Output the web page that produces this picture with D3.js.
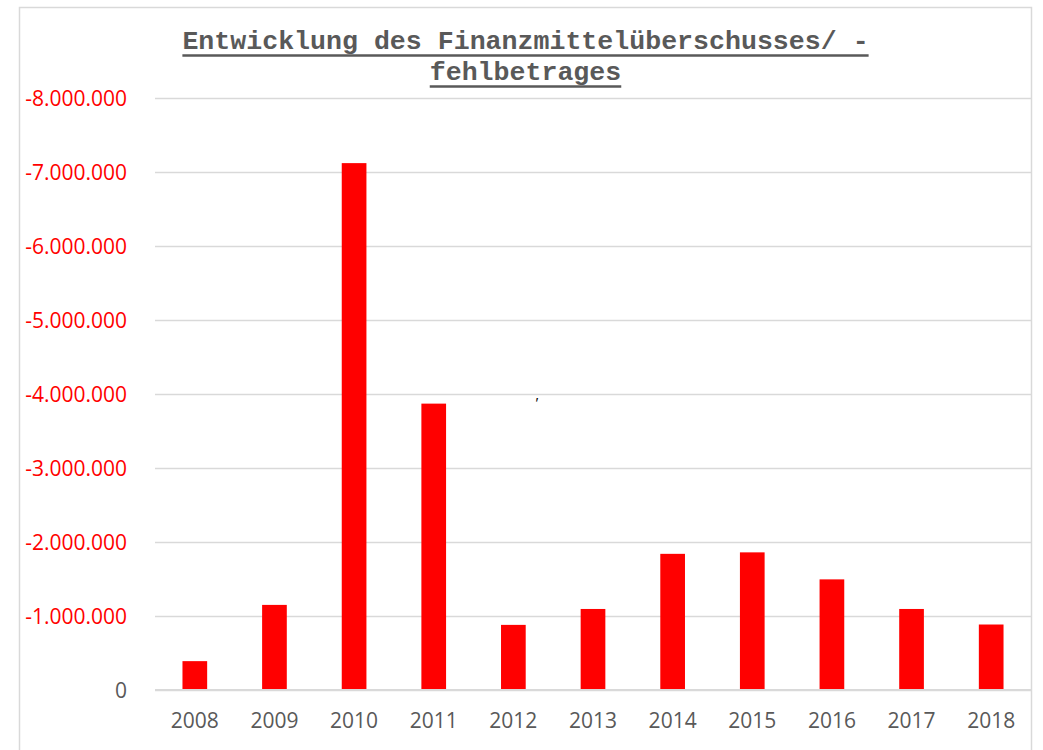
<!DOCTYPE html>
<html>
<head>
<meta charset="utf-8">
<script src="https://cdn.jsdelivr.net/npm/d3@7"></script>
<style>
  html, body { margin: 0; padding: 0; background: #fff; }
</style>
</head>
<body>
<svg id="chart" width="1043" height="750"></svg>
<script>
// Finanzmittelüberschuss / -fehlbetrag per year (values in EUR, negative = Fehlbetrag)
const years = ['2008', '2009', '2010', '2011', '2012', '2013', '2014', '2015', '2016', '2017', '2018']
const values = [-390000, -1150000, -7120000, -3870000, -880000, -1095000, -1840000, -1860000, -1495000, -1095000, -885000]
const yTicks = [0, -1000000, -2000000, -3000000, -4000000, -5000000, -6000000, -7000000, -8000000]
const titleLines = ['Entwicklung des Finanzmittelüberschusses/ -', 'fehlbetrages']

const svg = d3.select('#chart')
const plot = {left: 155, right: 1031, top: 98, bottom: 690}

// chart area border
svg.append('rect')
  .attr('x', 19.5).attr('y', 7.5)
  .attr('width', 1012).attr('height', 800)
  .attr('fill', '#fff')
  .attr('stroke', '#d9d9d9')
  .attr('stroke-width', 1.5)

let x = d3.scaleBand().domain(years).range([plot.left, plot.right]).paddingInner(0.69).paddingOuter(0.345)
let y = d3.scaleLinear().domain([0, -8000000]).range([plot.bottom, plot.top])

let fmt = d3.formatLocale({decimal: ',', thousands: '.', grouping: [3], currency: ['', ' €'], minus: '-'}).format(',.0f')

// gridlines + y labels
let yAxis = d3.axisLeft(y).tickValues(yTicks).tickSize(-(plot.right - plot.left)).tickFormat(fmt).tickPadding(28)
let gy = svg.append('g').attr('transform', `translate(${plot.left},0)`).call(yAxis)
gy.select('.domain').remove()
gy.selectAll('.tick line').attr('stroke', '#d9d9d9').attr('stroke-width', 1.5)
gy.selectAll('.tick text')
  .attr('fill', d => d === 0 ? '#595959' : '#ff0000')
  .attr('font-family', '"Open Sans", sans-serif')
  .attr('font-size', '21px')
  .attr('dy', '0.36em')

// bars
svg.append('g').selectAll('rect')
  .data(values)
  .join('rect')
  .attr('x', (d, i) => x(years[i]))
  .attr('width', x.bandwidth())
  .attr('y', d => y(d))
  .attr('height', d => y(0) - y(d))
  .attr('fill', '#ff0000')

// zero line on top
svg.append('line')
  .attr('x1', plot.left).attr('x2', plot.right)
  .attr('y1', y(0)).attr('y2', y(0))
  .attr('stroke', '#d9d9d9').attr('stroke-width', 2)

// x labels
let xAxis = d3.axisBottom(x).tickSize(0).tickPadding(23)
let gx = svg.append('g').attr('transform', `translate(0,${plot.bottom})`).call(xAxis)
gx.select('.domain').remove()
gx.selectAll('.tick text')
  .attr('fill', '#595959')
  .attr('font-family', '"Open Sans", sans-serif')
  .attr('font-size', '21px')

// title, underlined
let titleY = [49, 80]
titleLines.forEach((t, i) => {
  let txt = svg.append('text')
    .attr('x', 525.5).attr('y', titleY[i])
    .attr('text-anchor', 'middle')
    .attr('font-family', '"Liberation Mono", "Courier New", monospace')
    .attr('font-weight', 'bold')
    .attr('font-size', '26.6px')
    .attr('fill', '#595959')
    .text(t)
  let w = txt.node().getComputedTextLength()
  svg.append('line')
    .attr('x1', 525.5 - w / 2).attr('x2', 525.5 + w / 2)
    .attr('y1', titleY[i] + 6.5).attr('y2', titleY[i] + 6.5)
    .attr('stroke', '#595959').attr('stroke-width', 2.6)
})

// stray mark in the original picture
svg.append('text')
  .attr('x', 535.5).attr('y', 408)
  .attr('font-family', '"Liberation Sans", sans-serif')
  .attr('font-size', '15px')
  .attr('fill', '#000')
  .text('′')
</script>
</body>
</html>
